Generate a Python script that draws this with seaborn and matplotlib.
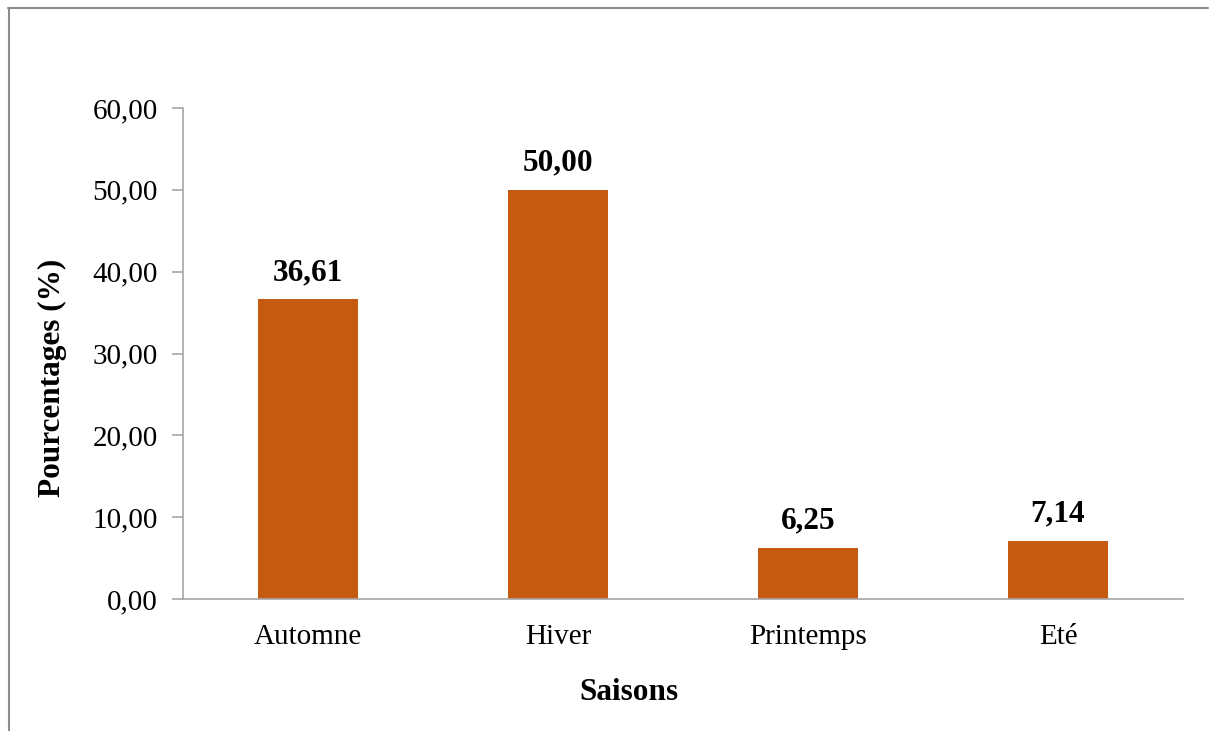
import matplotlib
matplotlib.use("Agg")
import matplotlib.pyplot as plt
import matplotlib.patheffects as pe
from matplotlib.lines import Line2D
import seaborn as sns
import pandas as pd

# Data
saisons = ["Automne", "Hiver", "Printemps", "Eté"]
pourcentages = [36.61, 50.00, 6.25, 7.14]
yticks = [0, 10, 20, 30, 40, 50, 60]

df = pd.DataFrame({"Saison": saisons, "Pourcentage": pourcentages})

sns.set_style("white")
plt.rcParams['font.family'] = ['Liberation Serif', 'DejaVu Serif']
plt.rcParams['text.color'] = 'black'
plt.rcParams['xtick.color'] = 'black'
plt.rcParams['ytick.color'] = 'black'
plt.rcParams['axes.labelcolor'] = 'black'

fig = plt.figure(figsize=(12.09, 7.31), dpi=100)
ax = fig.add_axes([183 / 1209, 1 - 599 / 731, 1000 / 1209, (599 - 108) / 731])

sns.barplot(data=df, x="Saison", y="Pourcentage", ax=ax, color="#C55A11",
            saturation=1, width=0.4, edgecolor="none")

# soft Excel-like shadow under the bars
for patch in ax.patches:
    patch.set_path_effects([pe.SimplePatchShadow(offset=(0, -1.5), shadow_rgbFace="#808080", alpha=0.5),
                            pe.Normal()])

ax.set_xlim(-0.5, len(saisons) - 0.5)
ax.set_ylim(0, 60)
ax.set_yticks(yticks)
ax.set_yticklabels([f"{v:.2f}".replace(".", ",") for v in yticks], fontsize=21)
ax.set_xticks(range(len(saisons)))
ax.set_xticklabels(saisons, fontsize=21)
ax.set_xticks([i - 0.5 for i in range(len(saisons) + 1)], minor=True)
ax.tick_params(axis="x", which="major", length=0, pad=18)
ax.tick_params(axis="x", which="minor", length=8, width=1.2, color="#A6A6A6", direction="out")
ax.tick_params(axis="y", length=8, width=1.2, color="#A6A6A6", labelcolor="black",
               direction="out", pad=10, left=True)

for side in ["top", "right"]:
    ax.spines[side].set_visible(False)
for side in ["left", "bottom"]:
    ax.spines[side].set_color("#A6A6A6")
    ax.spines[side].set_linewidth(1.2)

# value labels
for i, v in enumerate(pourcentages):
    ax.annotate(f"{v:.2f}".replace(".", ","), xy=(i, v), xytext=(0, 9),
                textcoords="offset points", ha="center", va="bottom",
                fontsize=22.5, fontweight="bold")

ax.set_xlabel("Saisons", fontsize=22.5, fontweight="bold")
ax.xaxis.set_label_coords(0.446, -0.16)
ax.set_ylabel("Pourcentages (%)", fontsize=22.5, fontweight="bold", va="center")
ax.yaxis.set_label_coords(-0.131, 0.45)

# chart area border (top and left visible)
fig.add_artist(Line2D([8 / 1209, 1208 / 1209], [1 - 7.5 / 731, 1 - 7.5 / 731],
                      transform=fig.transFigure, color="#8C8C8C", linewidth=1.5))
fig.add_artist(Line2D([8.5 / 1209, 8.5 / 1209], [0, 1 - 7.5 / 731],
                      transform=fig.transFigure, color="#8C8C8C", linewidth=1.5))

fig.savefig("out.png", dpi=100)
